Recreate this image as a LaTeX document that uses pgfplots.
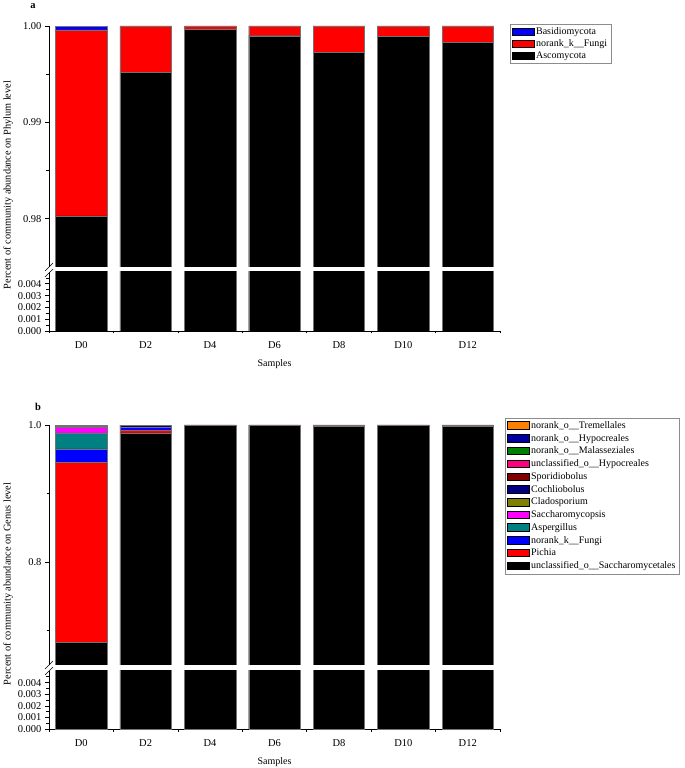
\documentclass[border=0pt]{standalone}
\usepackage{pgfplots}
\pgfplotsset{compat=1.18}
\usepackage{pgfplotstable}
\usepackage{fontspec}
\setmainfont{Liberation Serif}

\definecolor{cOrange}{RGB}{255,128,0}
\definecolor{cHypo}{RGB}{0,0,160}
\definecolor{cGreen}{RGB}{0,128,0}
\definecolor{cPink}{RGB}{255,0,128}
\definecolor{cWine}{RGB}{128,0,0}
\definecolor{cNavy}{RGB}{0,0,128}
\definecolor{cOlive}{RGB}{128,128,0}
\definecolor{cMagenta}{RGB}{255,0,255}
\definecolor{cTeal}{RGB}{0,128,128}
\definecolor{cBlue}{RGB}{0,0,255}
\definecolor{cRed}{RGB}{255,0,0}

\pgfplotstableread{
x Asco Fung Basi
0 0.98030 0.01930 0.00040
1 0.99520 0.00480 0
2 0.99966 0.00034 0
3 0.99899 0.00101 0
4 0.99727 0.00273 0
5 0.99889 0.00111 0
6 0.99827 0.00173 0
}\phylum

\pgfplotstableread{
x Sacc Pich Fung Asp Sacp Clad Coch Spor uHyp Mal nHyp Trem
0 0.6827 0.2629 0.0194 0.0234 0.0087 0.0008 0.0012 0.0004 0.0002 0.0001 0.0001 0.0001
1 0.9884 0.0033 0.0048 0.0002 0.0001 0.0001 0.0025 0.0002 0.0001 0.0001 0.0001 0.0001
2 0.9995 0.0001 0.0001 0.0001 0 0 0.0001 0.0001 0 0 0 0
3 0.9996 0.0001 0.0001 0 0 0 0.0001 0.0001 0 0 0 0
4 0.9980 0.0001 0.0015 0.0001 0 0 0.0001 0.0001 0.0001 0 0 0
5 0.9997 0 0.0001 0 0 0 0.0001 0.0001 0 0 0 0
6 0.9981 0.0001 0.0001 0 0 0 0.0001 0.0015 0.0001 0 0 0
}\genus

\pgfplotsset{
  base/.style={
    scale only axis, width=451pt,
    xmin=-0.5, xmax=6.5,
    ybar stacked, bar width=0.8,
    tick align=outside,
    axis line style={-, line width=0.8pt},
    major tick length=4pt, minor tick length=2.5pt,
    tick style={line width=0.6pt, black},
    font=\fontsize{10}{12}\selectfont,
    ticklabel style={font=\fontsize{10.5}{12}\selectfont},
    /pgf/number format/assume math mode=true,
    every axis plot/.append style={draw=black!55, line width=0.4pt},
  },
  upper/.style={base,
    axis x line=none, axis y line*=left, xtick=\empty,
  },
  lower/.style={base,
    axis x line*=bottom, axis y line*=left,
    ymin=0, ymax=0.005,
    ytick={0,0.001,0.002,0.003,0.004},
    minor ytick={0.0005,0.0015,0.0025,0.0035,0.0045},
    yticklabel style={/pgf/number format/.cd, fixed, precision=3, zerofill},
    scaled y ticks=false,
    xtick={0,...,6},
    xticklabels={D0,D2,D4,D6,D8,D10,D12},
    xticklabel style={yshift=-3pt},
    major x tick style={draw=none},
    minor xtick={-0.5,0.5,...,6.5},
    xlabel={Samples},
    xlabel style={yshift=-4pt},
  },
  legimg/.style={legend image code/.code={\draw[##1, draw=black, line width=0.5pt] (0pt,-3.5pt) rectangle (22pt,4pt);}},
}

\begin{document}
\begin{tikzpicture}
\path[use as bounding box] (0,0) rectangle (685pt,768pt);

% ---------------- panel a ----------------
\begin{axis}[upper, at={(49pt,501pt)}, anchor=south west, height=241pt,
  ymin=0.975, ymax=1.0,
  ytick={0.98,0.99,1.00},
  minor ytick={0.985,0.995},
  yticklabel style={/pgf/number format/.cd, fixed, precision=2, zerofill},
  legimg, reverse legend,
  legend style={at={(1.022,1.008)}, anchor=north west, draw=black!45,
    font=\fontsize{10}{11}\selectfont, row sep=-0.4pt, inner sep=1.5pt,
    cells={anchor=west}},
]
\addplot[fill=black] table[x=x,y=Asco]{\phylum};
\addplot[fill=cRed] table[x=x,y=Fung]{\phylum};
\addplot[fill=cBlue] table[x=x,y=Basi]{\phylum};
\legend{Ascomycota,norank\_k\_\_Fungi,Basidiomycota}
\end{axis}

\begin{axis}[lower, at={(49pt,437pt)}, anchor=south west, height=59pt]
\addplot[fill=black] table[x=x,y=Asco]{\phylum};
\addplot[fill=cRed] table[x=x,y=Fung]{\phylum};
\addplot[fill=cBlue] table[x=x,y=Basi]{\phylum};
\end{axis}

\draw[line width=0.6pt] (45pt,497pt) -- (53pt,505pt);
\draw[line width=0.6pt] (45pt,491pt) -- (53pt,499pt);
\node[font=\bfseries\fontsize{10.5}{12}\selectfont] at (33pt,762pt) {a};
\node[rotate=90, font=\fontsize{10.3}{12}\selectfont] at (8pt,583pt) {Percent of community abundance on Phylum level};

% ---------------- panel b ----------------
\begin{axis}[upper, at={(49pt,103pt)}, anchor=south west, height=240pt,
  ymin=0.65, ymax=1.0,
  ytick={0.8,1.0},
  minor ytick={0.7,0.9},
  yticklabel style={/pgf/number format/.cd, fixed, precision=1, zerofill},
  legimg, reverse legend,
  legend style={at={(1.011,1.03)}, anchor=north west, draw=black!45,
    font=\fontsize{10}{11}\selectfont, row sep=0.3pt, inner sep=1.5pt,
    cells={anchor=west}},
]
\addplot[fill=black] table[x=x,y=Sacc]{\genus};
\addplot[fill=cRed] table[x=x,y=Pich]{\genus};
\addplot[fill=cBlue] table[x=x,y=Fung]{\genus};
\addplot[fill=cTeal] table[x=x,y=Asp]{\genus};
\addplot[fill=cMagenta] table[x=x,y=Sacp]{\genus};
\addplot[fill=cOlive] table[x=x,y=Clad]{\genus};
\addplot[fill=cNavy] table[x=x,y=Coch]{\genus};
\addplot[fill=cWine] table[x=x,y=Spor]{\genus};
\addplot[fill=cPink] table[x=x,y=uHyp]{\genus};
\addplot[fill=cGreen] table[x=x,y=Mal]{\genus};
\addplot[fill=cHypo] table[x=x,y=nHyp]{\genus};
\addplot[fill=cOrange] table[x=x,y=Trem]{\genus};
\legend{unclassified\_o\_\_Saccharomycetales,Pichia,norank\_k\_\_Fungi,Aspergillus,Saccharomycopsis,Cladosporium,Cochliobolus,Sporidiobolus,unclassified\_o\_\_Hypocreales,norank\_o\_\_Malasseziales,norank\_o\_\_Hypocreales,norank\_o\_\_Tremellales}
\end{axis}

\begin{axis}[lower, at={(49pt,39pt)}, anchor=south west, height=58pt]
\addplot[fill=black] table[x=x,y=Sacc]{\genus};
\end{axis}

\draw[line width=0.6pt] (45pt,99pt) -- (53pt,107pt);
\draw[line width=0.6pt] (45pt,93pt) -- (53pt,101pt);
\node[font=\bfseries\fontsize{10.5}{12}\selectfont] at (38pt,361pt) {b};
\node[rotate=90, font=\fontsize{10.3}{12}\selectfont] at (8pt,184pt) {Percent of community abundance on Genus level};
\end{tikzpicture}
\end{document}
